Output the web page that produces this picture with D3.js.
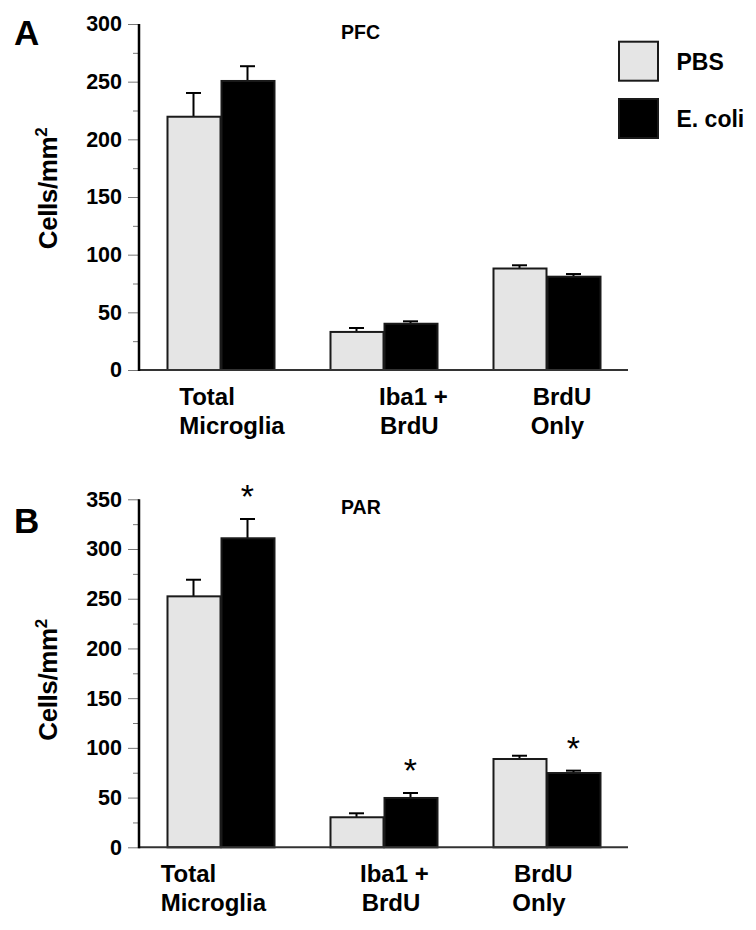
<!DOCTYPE html>
<html>
<head>
<meta charset="utf-8">
<script src="https://cdn.jsdelivr.net/npm/d3@7"></script>
<style>
  html, body { margin: 0; padding: 0; background: #fff; }
  svg { display: block; }
  text { font-family: "Liberation Sans", Arial, sans-serif; }
</style>
</head>
<body>
<svg id="chart" width="756" height="930"></svg>
<script>
// ---------- data ----------
const categories = ["Total Microglia", "Iba1 + BrdU", "BrdU Only"];
const categoryLines = [["Total", "Microglia"], ["Iba1 +", "BrdU"], ["BrdU", "Only"]];
const groups = ["PBS", "E. coli"];

const pfcPBS = [219.6, 33.0, 88.0];
const pfcPBSErr = [20.6, 3.4, 2.8];
const pfcEcoli = [250.6, 40.1, 80.9];
const pfcEcoliErr = [12.8, 2.1, 2.3];
const pfcSig = [false, false, false];
const pfcTicks = [0, 50, 100, 150, 200, 250, 300];
const pfcMinorTicks = [25, 75, 125, 175, 225, 275];

const parPBS = [252.4, 30.2, 88.8];
const parPBSErr = [16.7, 4.0, 3.3];
const parEcoli = [310.8, 49.6, 74.7];
const parEcoliErr = [19.4, 5.0, 2.4];
const parSig = [true, true, true];
const parTicks = [0, 50, 100, 150, 200, 250, 300, 350];
const parMinorTicks = [25, 75, 125, 175, 225, 275, 325];

const yTitle = "Cells/mm";
const yTitleSup = "2";

// ---------- layout ----------
const svg = d3.select("#chart");
const colors = { "PBS": "#e5e5e5", "E. coli": "#000000" };
const FONT = '"Liberation Sans", Arial, sans-serif';

const x = d3.scaleBand().domain(categories).range([139, 628])
  .paddingInner(0.3374).paddingOuter(0.1687);
const xSub = d3.scaleBand().domain(groups).range([0, x.bandwidth()]);

const panels = [
  { letter: "A", title: "PFC", pbs: pfcPBS, pbsErr: pfcPBSErr, ecoli: pfcEcoli, ecoliErr: pfcEcoliErr,
    sig: pfcSig, ticks: pfcTicks, minor: pfcMinorTicks, max: 300, y0: 370, y1: 24,
    letterY: 45, titleY: 39, labelBase: 405, labelDx: [[12.8, 12.8], [49.5, 50.5], [40.2, 38.2]], titleCy: 188.5 },
  { letter: "B", title: "PAR", pbs: parPBS, pbsErr: parPBSErr, ecoli: parEcoli, ecoliErr: parEcoliErr,
    sig: parSig, ticks: parTicks, minor: parMinorTicks, max: 350, y0: 847.3, y1: 499.3,
    letterY: 533, titleY: 514, labelBase: 882.3, labelDx: [[-5.8, -5.8], [30.5, 32.2], [21.5, 19.8]], titleCy: 680 }
];

panels.forEach(p => {
  const y = d3.scaleLinear().domain([0, p.max]).range([p.y0, p.y1]);
  const g = svg.append("g");

  // minor ticks
  g.append("g").attr("transform", "translate(139,0)")
    .call(d3.axisLeft(y).tickValues(p.minor).tickSize(6).tickFormat(""))
    .call(a => a.select(".domain").remove())
    .call(a => a.selectAll("line").attr("stroke", "#777").attr("stroke-width", 1));

  // major ticks
  g.append("g").attr("transform", "translate(139,0)")
    .call(d3.axisLeft(y).tickValues(p.ticks).tickSize(11).tickPadding(6).tickFormat(d3.format("d")))
    .call(a => a.select(".domain").remove())
    .call(a => a.selectAll("line").attr("stroke", "#777").attr("stroke-width", 1))
    .call(a => a.selectAll("text").attr("font-family", FONT).attr("font-size", 21.5)
      .attr("font-weight", "bold").attr("fill", "#000"));

  // bars
  const rows = categories.map((c, i) => ({
    cat: c, i,
    vals: [
      { key: "PBS", v: p.pbs[i], e: p.pbsErr[i], sig: false },
      { key: "E. coli", v: p.ecoli[i], e: p.ecoliErr[i], sig: p.sig[i] }
    ]
  }));

  const cg = g.selectAll("g.cat").data(rows).join("g").attr("class", "cat")
    .attr("transform", d => `translate(${x(d.cat)},0)`);

  // error bars (drawn before bars so bar covers line base)
  cg.each(function(d) {
    const sel = d3.select(this);
    d.vals.forEach(v => {
      const cx = xSub(v.key) + xSub.bandwidth() / 2;
      sel.append("line").attr("x1", cx).attr("x2", cx)
        .attr("y1", y(v.v)).attr("y2", y(v.v + v.e))
        .attr("stroke", "#000").attr("stroke-width", 2);
      sel.append("line").attr("x1", cx - 7.5).attr("x2", cx + 7.5)
        .attr("y1", y(v.v + v.e)).attr("y2", y(v.v + v.e))
        .attr("stroke", "#000").attr("stroke-width", 2);
      if (v.sig) {
        sel.append("text").attr("x", cx).attr("y", y(v.v + v.e) - 25 + 14)
          .attr("text-anchor", "middle").attr("font-family", "DejaVu Sans, sans-serif")
          .attr("font-size", 34).text("*");
      }
    });
  });

  cg.selectAll("rect").data(d => d.vals).join("rect")
    .attr("x", v => xSub(v.key) + 1)
    .attr("width", xSub.bandwidth() - 1)
    .attr("y", v => y(v.v))
    .attr("height", v => y(0) - y(v.v))
    .attr("fill", v => colors[v.key])
    .attr("stroke", "#1a1a1a").attr("stroke-width", 2);

  // axes lines
  g.append("line").attr("x1", 139).attr("x2", 628).attr("y1", y(0)).attr("y2", y(0))
    .attr("stroke", "#333").attr("stroke-width", 2);
  g.append("line").attr("x1", 139).attr("x2", 139).attr("y1", y(0) + 1).attr("y2", y(p.max))
    .attr("stroke", "#000").attr("stroke-width", 2.5);

  // category labels
  rows.forEach((d, i) => {
    categoryLines[i].forEach((ln, j) => {
      g.append("text").attr("x", x(d.cat) + p.labelDx[i][j]).attr("y", p.labelBase + j * 28.7)
        .attr("font-family", FONT).attr("font-size", 24).attr("font-weight", "bold").text(ln);
    });
  });

  // panel letter
  g.append("text").attr("x", 14).attr("y", p.letterY).attr("font-family", FONT)
    .attr("font-size", 35).attr("font-weight", "bold").text(p.letter);

  // panel title
  g.append("text").attr("x", 341).attr("y", p.titleY).attr("font-family", FONT)
    .attr("font-size", 19.5).attr("font-weight", "bold").text(p.title);

  // y title
  const t = g.append("text").attr("transform", `translate(56.5,${p.titleCy}) rotate(-90)`)
    .attr("text-anchor", "middle").attr("font-family", FONT)
    .attr("font-size", 26).attr("font-weight", "bold").attr("letter-spacing", -0.4);
  t.append("tspan").text(yTitle);
  t.append("tspan").attr("font-size", 17).attr("dy", -10).text(yTitleSup);
});

// legend
const legend = svg.append("g");
const legendY = [41.7, 99];
const legendTextY = [70, 126.7];
groups.forEach((k, i) => {
  legend.append("rect").attr("x", 619).attr("y", legendY[i]).attr("width", 39).attr("height", 39)
    .attr("fill", colors[k]).attr("stroke", "#1a1a1a").attr("stroke-width", 2);
  legend.append("text").attr("x", 676.5).attr("y", legendTextY[i]).attr("font-family", FONT)
    .attr("font-size", 23).attr("font-weight", "bold").text(k);
});
</script>
</body>
</html>
